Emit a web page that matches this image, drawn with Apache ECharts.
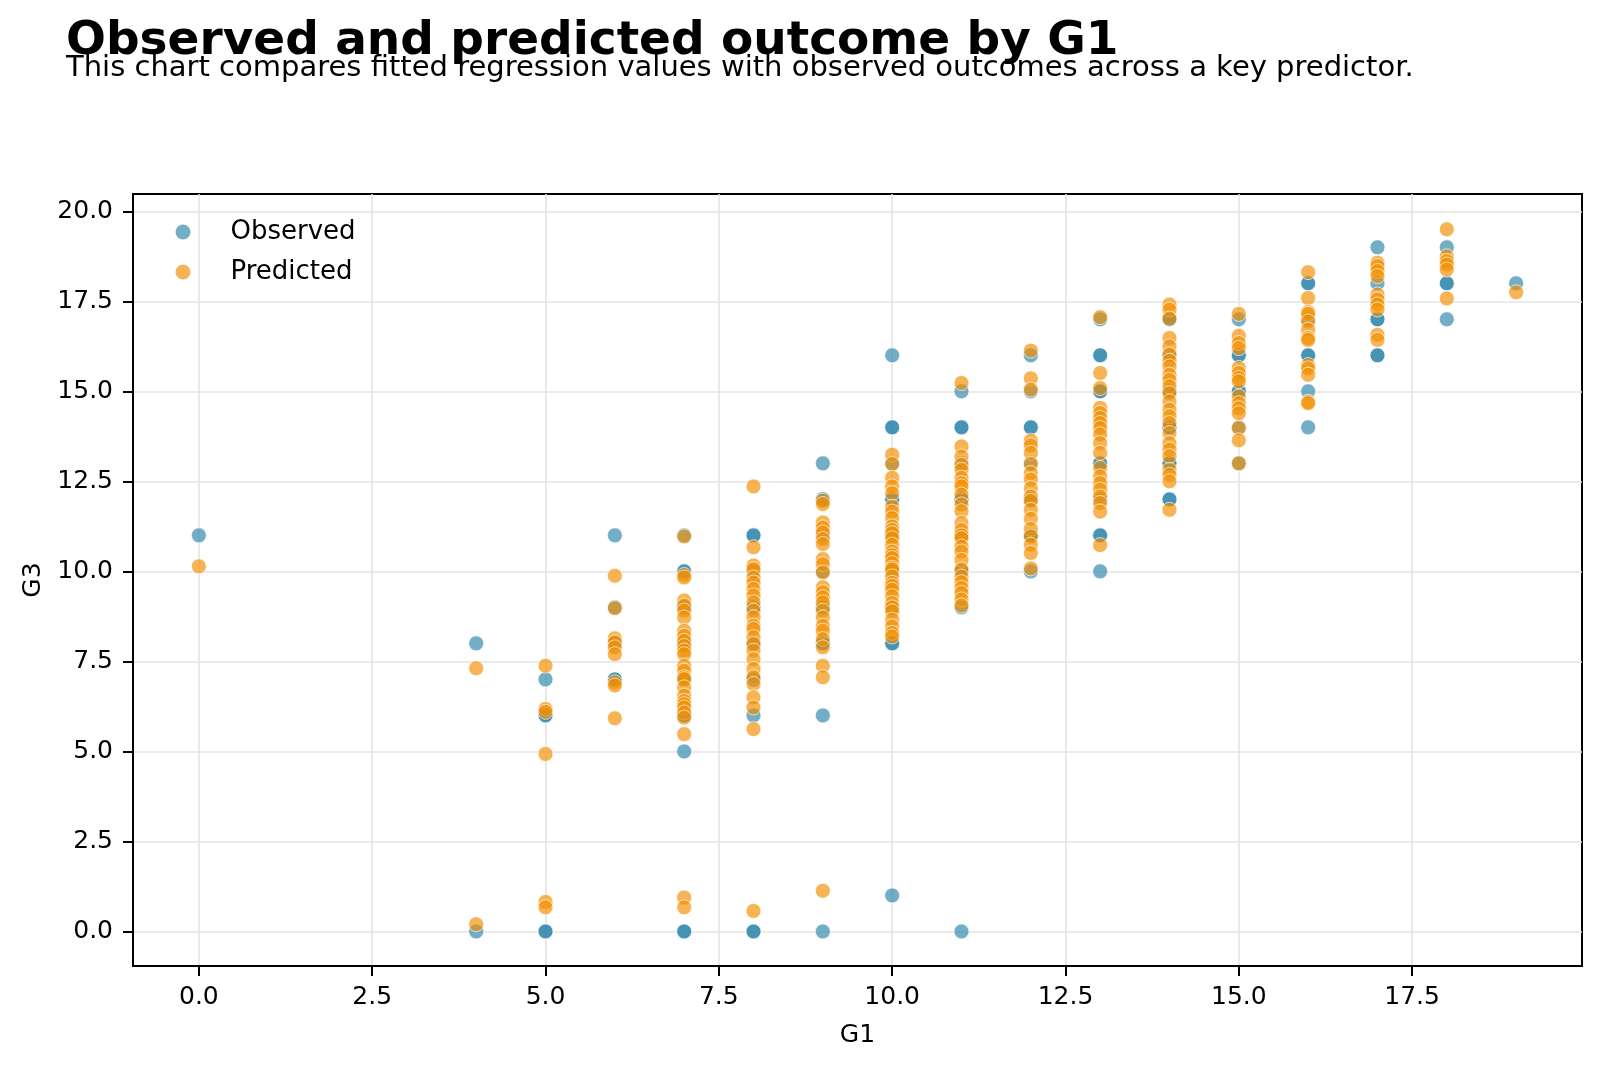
<!DOCTYPE html>
<html>
<head>
<meta charset="utf-8">
<title>Observed and predicted outcome by G1</title>
<script src="https://cdn.jsdelivr.net/npm/echarts@6.0.0/dist/echarts.min.js"></script>
<style>
  html, body { margin: 0; padding: 0; background: #fff; }
  #chart { width: 1600px; height: 1068px; }
</style>
</head>
<body>
<div id="chart"></div>
<script>
// G1 levels present in the data, and G3 values read per level
const g1Levels = [0, 4, 5, 6, 7, 8, 9, 10, 11, 12, 13, 14, 15, 16, 17, 18, 19];

const observedG3 = [
  [11],
  [8, 0],
  [7, 6, 6, 0, 0],
  [11, 9, 8, 8, 7, 7],
  [11, 10, 10, 9, 9, 8, 8, 8, 7, 7, 7, 6, 6, 5, 0, 0],
  [11, 11, 10, 9, 9, 8, 8, 7, 7, 6, 0, 0],
  [13, 12, 12, 11, 10, 9, 9, 8, 8, 6, 0],
  [16, 14, 14, 13, 12, 12, 11, 11, 10, 10, 10, 9, 9, 8, 8, 1],
  [15, 14, 14, 13, 12, 12, 11, 11, 10, 10, 9, 0],
  [16, 15, 14, 14, 13, 12, 12, 11, 11, 10],
  [17, 16, 16, 15, 15, 13, 13, 12, 11, 11, 10],
  [17, 17, 16, 15, 15, 14, 14, 13, 13, 12, 12],
  [17, 16, 16, 15, 15, 14, 13],
  [18, 18, 17, 16, 16, 15, 14],
  [19, 18, 17, 17, 16, 16],
  [19, 18, 18, 17],
  [18]
];

const predictedG3 = [
  [10.14],
  [7.31, 0.2],
  [7.38, 6.18, 6.1, 4.93, 0.82, 0.67],
  [9.88, 8.98, 8.14, 8.03, 7.89, 7.7, 6.92, 6.83, 5.92],
  [10.97, 9.9, 9.83, 9.19, 9.05, 8.91, 8.72, 8.35, 8.21, 8.07, 7.93, 7.8, 7.7, 7.38, 7.24, 7.06, 7.01,
   6.78, 6.55, 6.4, 6.31, 6.22, 6.08, 5.94, 5.48, 0.94, 0.67],
  [12.36, 10.67, 10.16, 10.06, 9.83, 9.69, 9.51, 9.33, 9.14, 8.91, 8.72, 8.49, 8.4, 8.17, 7.98, 7.8,
   7.56, 7.29, 7.06, 6.87, 6.5, 6.22, 5.62, 0.57],
  [11.96, 11.87, 11.36, 11.22, 11.08, 10.9, 10.76, 10.34, 10.2, 9.97, 9.56, 9.42, 9.28, 9.14, 8.91,
   8.72, 8.49, 8.35, 8.12, 7.89, 7.38, 7.06, 1.13],
  [13.24, 12.98, 12.6, 12.36, 12.17, 11.8, 11.66, 11.48, 11.25, 11.15, 11.06, 10.92, 10.74, 10.55, 10.45,
   10.37, 10.23, 10.1, 10.05, 9.86, 9.68, 9.6, 9.49, 9.31, 9.12, 9.0, 8.89, 8.66, 8.47, 8.29, 8.19],
  [15.23, 13.47, 13.19, 12.96, 12.82, 12.6, 12.45, 12.36, 12.13, 11.86, 11.67, 11.34, 11.15, 11.0,
   10.92, 10.69, 10.55, 10.32, 10.05, 9.86, 9.7, 9.54, 9.4, 9.22, 9.05],
  [16.13, 15.36, 15.05, 13.63, 13.5, 13.29, 12.98, 12.73, 12.55, 12.31, 12.08, 11.96, 11.71, 11.46,
   11.18, 10.97, 10.74, 10.51, 10.08],
  [17.06, 15.51, 15.09, 14.54, 14.4, 14.26, 14.12, 13.98, 13.8, 13.56, 13.29, 12.87, 12.64, 12.45,
   12.27, 12.08, 11.9, 11.66, 10.73],
  [17.41, 17.27, 17.02, 16.48, 16.25, 16.02, 15.85, 15.69, 15.46, 15.32, 15.14, 14.95, 14.72, 14.49,
   14.31, 14.12, 13.84, 13.56, 13.38, 13.2, 12.82, 12.68, 12.5, 11.71],
  [17.15, 16.54, 16.34, 16.2, 15.65, 15.51, 15.37, 15.28, 14.86, 14.67, 14.53, 14.39, 13.98, 13.64, 13.0],
  [18.31, 17.59, 17.2, 17.15, 16.94, 16.71, 16.48, 16.43, 15.73, 15.64, 15.46, 14.71, 14.67],
  [18.57, 18.48, 18.34, 18.2, 17.69, 17.55, 17.41, 17.27, 16.57, 16.43],
  [19.5, 18.75, 18.62, 18.52, 18.38, 17.58],
  [17.75]
];

const xTicks = [0, 2.5, 5, 7.5, 10, 12.5, 15, 17.5];
const yTicks = [0, 2.5, 5, 7.5, 10, 12.5, 15, 17.5, 20];

const toPoints = (groups) =>
  g1Levels.flatMap((g, i) => groups[i].map((v) => [g, v]));

const FONT = 'DejaVu Sans';
const OBS_COLOR = '#2E86AB';
const PRED_COLOR = '#F18F01';
const ALPHA = 0.67;

const chart = echarts.init(document.getElementById('chart'), null, { renderer: 'canvas' });

const axisCommon = {
  type: 'value',
  minInterval: 2.5,
  maxInterval: 2.5,
  axisLine: { show: true, onZero: false, lineStyle: { color: '#000', width: 2 } },
  axisTick: { show: true, length: 10, lineStyle: { color: '#000', width: 2 } },
  splitLine: { show: true, lineStyle: { color: '#e4e4e4', width: 1.6 } },
  nameLocation: 'middle',
  nameTextStyle: { fontFamily: FONT, fontSize: 25, color: '#000' }
};

chart.setOption({
  animation: false,
  backgroundColor: '#fff',
  title: [
    {
      text: 'Observed and predicted outcome by G1',
      left: 66,
      top: 18,
      padding: 0,
      textStyle: { fontFamily: FONT, fontSize: 47, fontWeight: 'bold', color: '#000' }
    },
    {
      text: 'This chart compares fitted regression values with observed outcomes across a key predictor.',
      left: 66,
      top: 54,
      padding: 0,
      textStyle: { fontFamily: FONT, fontSize: 29, fontWeight: 'normal', color: '#000' }
    }
  ],
  legend: {
    orient: 'vertical',
    left: 175.5,
    top: 217,
    padding: 0,
    itemWidth: 15,
    itemHeight: 15,
    itemGap: 10,
    icon: 'circle',
    textStyle: { fontFamily: FONT, fontSize: 26, color: '#000', lineHeight: 30, padding: [0, 0, 0, 35] },
    data: [
      { name: 'Observed', itemStyle: { color: OBS_COLOR, opacity: ALPHA, borderWidth: 0 } },
      { name: 'Predicted', itemStyle: { color: PRED_COLOR, opacity: ALPHA, borderWidth: 0 } }
    ]
  },
  grid: {
    left: 133,
    right: 18,
    top: 194,
    bottom: 102,
    show: true,
    borderColor: '#000',
    borderWidth: 2,
    containLabel: false,
    outerBoundsMode: 'none'
  },
  xAxis: Object.assign({}, axisCommon, {
    min: -0.95,
    max: 19.95,
    name: 'G1',
    nameGap: 57,
    axisTick: Object.assign({}, axisCommon.axisTick, { customValues: xTicks }),
    axisLabel: {
      customValues: xTicks,
      margin: 19,
      fontFamily: FONT,
      fontSize: 25,
      color: '#000',
      formatter: (v) => v.toFixed(1)
    }
  }),
  yAxis: Object.assign({}, axisCommon, {
    min: -0.96,
    max: 20.48,
    name: 'G3',
    nameGap: 86,
    axisTick: Object.assign({}, axisCommon.axisTick, { customValues: yTicks }),
    axisLabel: {
      customValues: yTicks,
      margin: 20,
      fontFamily: FONT,
      fontSize: 25,
      color: '#000',
      formatter: (v) => v.toFixed(1)
    }
  }),
  series: [
    {
      name: 'Observed',
      type: 'scatter',
      symbol: 'circle',
      symbolSize: 15,
      data: toPoints(observedG3),
      itemStyle: { color: OBS_COLOR, opacity: ALPHA, borderColor: '#fff', borderWidth: 1 },
      emphasis: { disabled: true }
    },
    {
      name: 'Predicted',
      type: 'scatter',
      symbol: 'circle',
      symbolSize: 15,
      data: toPoints(predictedG3),
      itemStyle: { color: PRED_COLOR, opacity: ALPHA, borderColor: '#fff', borderWidth: 1 },
      emphasis: { disabled: true }
    }
  ]
});
</script>
</body>
</html>
